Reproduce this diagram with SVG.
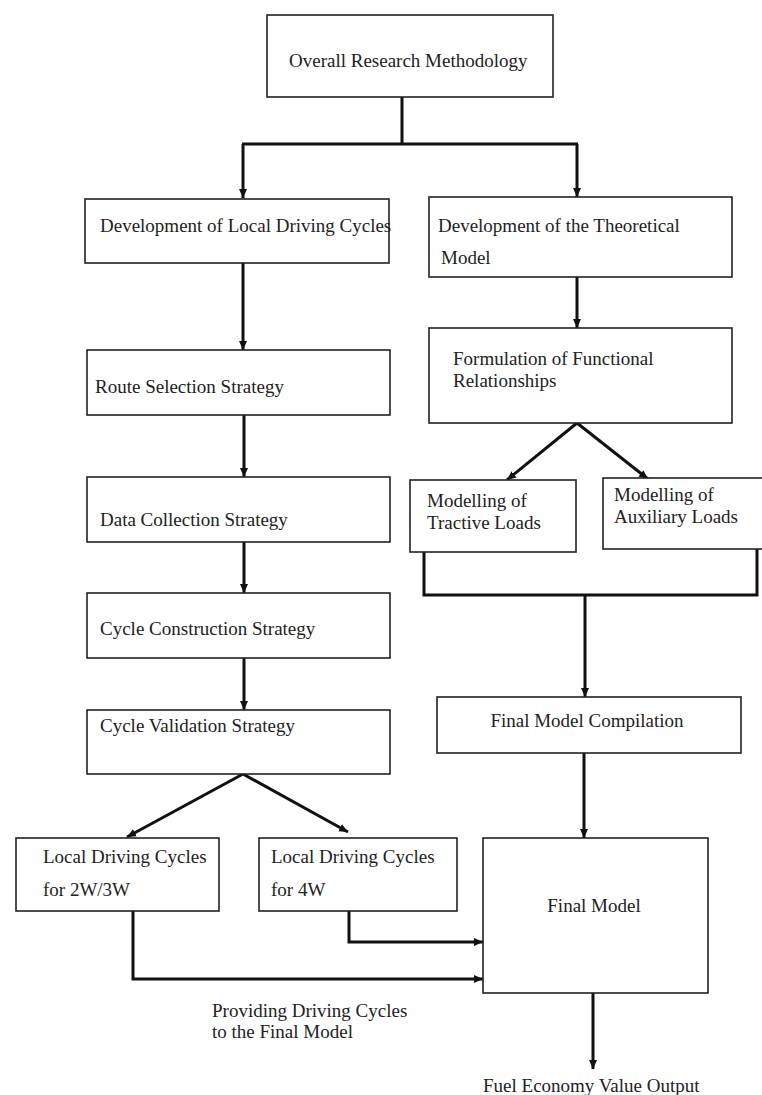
<svg xmlns="http://www.w3.org/2000/svg" width="762" height="1095" viewBox="0 0 762 1095">
<defs>
<marker id="ah" markerUnits="userSpaceOnUse" markerWidth="10" markerHeight="10" viewBox="0 0 10 10" refX="9" refY="5" orient="auto">
<path d="M0,1 L9,5 L0,9 Z" fill="#111"/>
</marker>
<style>
.box{fill:#fff;stroke:#222;stroke-width:1.6}
.t{font-family:"Liberation Serif","Times New Roman",serif;font-size:19px;fill:#222}
.c{fill:none;stroke:#111;stroke-width:3;stroke-linejoin:miter}
.a{fill:none;stroke:#111;stroke-width:3;marker-end:url(#ah)}
</style>
</defs>
<rect width="762" height="1095" fill="#fff"/>
<g id="connectors">
<path class="c" d="M402,97 V144 M242,144 H578"/>
<path class="a" d="M243,144 V198"/>
<path class="a" d="M577,144 V197"/>
<path class="a" d="M243,263 V350"/>
<path class="a" d="M244,415 V477"/>
<path class="a" d="M244,542 V593"/>
<path class="a" d="M244,658 V710"/>
<path class="a" d="M243,774 L127,837"/>
<path class="a" d="M243,774 L348,832"/>
<path class="a" d="M577,277 V328"/>
<path class="a" d="M577,423 L507,480"/>
<path class="a" d="M577,423 L648,479"/>
<path class="c" d="M424,552 V595 H757 V549"/>
<path class="a" d="M585,595 V697"/>
<path class="a" d="M584,753 V838"/>
<path class="a" d="M349,911 V942 H483"/>
<path class="a" d="M133,911 V979 H483"/>
<path class="a" d="M593,993 V1069"/>
</g>
<g id="n-overall"><rect class="box" x="267" y="15" width="286" height="82"/><text class="t" x="289" y="67">Overall Research Methodology</text></g>
<g id="n-devlocal"><rect class="box" x="85" y="199" width="304" height="64"/><text class="t" x="100" y="232">Development of Local Driving Cycles</text></g>
<g id="n-route"><rect class="box" x="87" y="350" width="303" height="65"/><text class="t" x="95" y="393">Route Selection Strategy</text></g>
<g id="n-data"><rect class="box" x="87" y="477" width="303" height="65"/><text class="t" x="100" y="526">Data Collection Strategy</text></g>
<g id="n-construct"><rect class="box" x="87" y="593" width="303" height="65"/><text class="t" x="100" y="635">Cycle Construction Strategy</text></g>
<g id="n-validate"><rect class="box" x="87" y="710" width="303" height="64"/><text class="t" x="100" y="732">Cycle Validation Strategy</text></g>
<g id="n-theory"><rect class="box" x="429" y="197" width="303" height="80"/><text class="t" x="438" y="232">Development of the Theoretical</text><text class="t" x="441" y="264">Model</text></g>
<g id="n-formulation"><rect class="box" x="429" y="328" width="303" height="95"/><text class="t" x="453" y="365">Formulation of Functional</text><text class="t" x="453" y="387">Relationships</text></g>
<g id="n-tractive"><rect class="box" x="410" y="480" width="166" height="72"/><text class="t" x="427" y="507">Modelling of</text><text class="t" x="427" y="529">Tractive Loads</text></g>
<g id="n-auxiliary"><rect class="box" x="603" y="478" width="175" height="71"/><text class="t" x="614" y="501">Modelling of</text><text class="t" x="614" y="523">Auxiliary Loads</text></g>
<g id="n-compilation"><rect class="box" x="437" y="697" width="304" height="56"/><text class="t" x="587" y="727" text-anchor="middle">Final Model Compilation</text></g>
<g id="n-final"><rect class="box" x="483" y="838" width="225" height="155"/><text class="t" x="594" y="912" text-anchor="middle">Final Model</text></g>
<g id="n-2w3w"><rect class="box" x="16" y="838" width="203" height="73"/><text class="t" x="43" y="863">Local Driving Cycles</text><text class="t" x="43" y="896">for 2W/3W</text></g>
<g id="n-4w"><rect class="box" x="259" y="838" width="198" height="73"/><text class="t" x="271" y="863">Local Driving Cycles</text><text class="t" x="271" y="896">for 4W</text></g>
<g id="label-providing"><text class="t" x="212" y="1017">Providing Driving Cycles</text><text class="t" x="212" y="1038">to the Final Model</text></g>
<g id="label-fuel"><text class="t" x="483" y="1092">Fuel Economy Value Output</text></g>
</svg>
